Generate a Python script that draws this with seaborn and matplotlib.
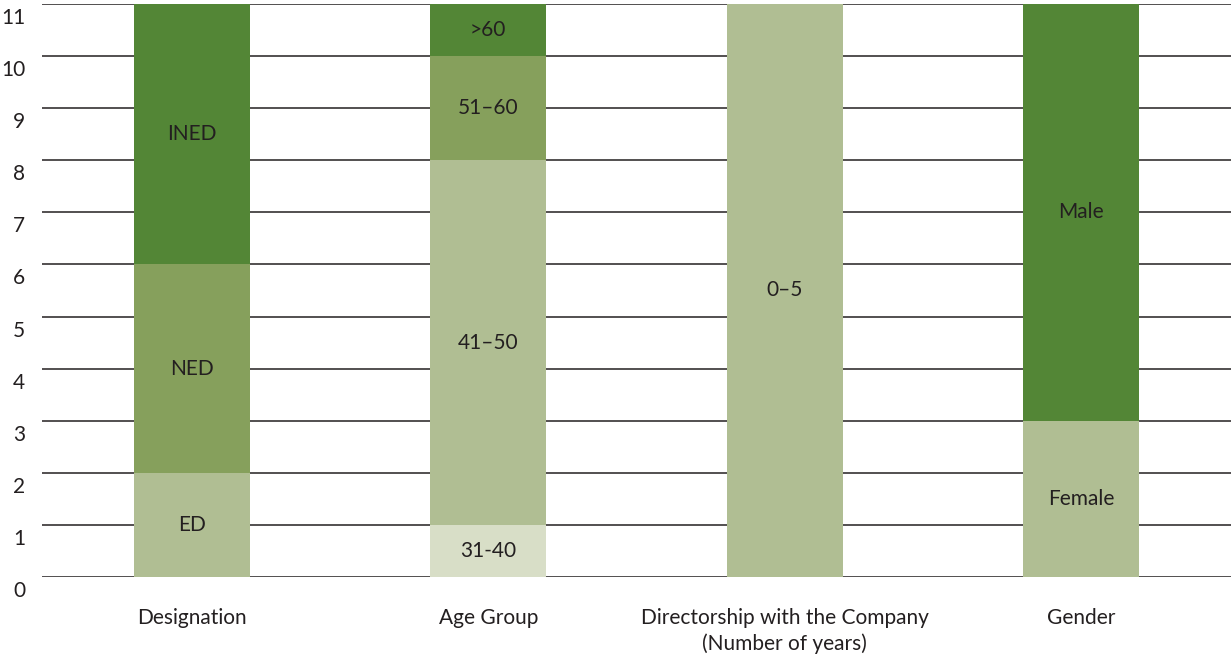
import matplotlib
matplotlib.use("Agg")
import matplotlib.pyplot as plt
import matplotlib.transforms as mtransforms
import seaborn as sns
import numpy as np

# categories on the x axis
categories = ["Designation", "Age Group", "Directorship with the Company\n(Number of years)", "Gender"]

# stacked segments per category, bottom to top
segment_labels = [
    ["ED", "NED", "INED"],
    ["31-40", "41\u201350", "51\u201360", ">60"],
    ["0\u20135"],
    ["Female", "Male"],
]
segment_values = [
    [2, 4, 5],
    [1, 7, 2, 1],
    [11],
    [3, 8],
]
segment_shades = [
    ["light", "mid", "dark"],
    ["pale", "light", "mid", "dark"],
    ["light"],
    ["light", "dark"],
]

shade_colors = {
    "dark": "#538636",
    "mid": "#86a05c",
    "light": "#b0be93",
    "pale": "#d8dec7",
}
text_color = "#231f20"
fsize = 15

sns.set_style("white")
plt.rcParams["font.family"] = ["Lato", "DejaVu Sans"]

fig = plt.figure(figsize=(12.31, 6.55), dpi=100)
ax = fig.add_axes([42 / 1231, 78 / 655, 1 - 42 / 1231, 573 / 655])

# gridlines behind bars
for y in range(0, 12):
    ax.axhline(y, color="#231f20", lw=1.1, zorder=0)

# draw cumulative tops from the highest segment downward so lower ones overlay
for ci, cat in enumerate(categories):
    vals = np.array(segment_values[ci])
    tops = np.cumsum(vals)
    for k in range(len(vals) - 1, -1, -1):
        sns.barplot(x=[cat], y=[tops[k]], order=categories, ax=ax,
                    color=shade_colors[segment_shades[ci][k]], width=0.39,
                    saturation=1, linewidth=0, edgecolor="none", zorder=2)
        ax.text(ci, tops[k] - vals[k] / 2, segment_labels[ci][k],
                ha="center", va="center", fontsize=fsize, color=text_color, zorder=3)

ax.set_xlim(-0.505, 3.505)
ax.set_ylim(0, 11)
ax.set_yticks(range(0, 12))
ax.set_xlabel("")
ax.set_ylabel("")
for s in ax.spines.values():
    s.set_visible(False)
ax.tick_params(axis="both", length=0, labelsize=fsize, colors=text_color)
ax.tick_params(axis="y", pad=12)
ax.tick_params(axis="x", pad=22)
for lbl in ax.get_xticklabels():
    lbl.set_linespacing(1.35)
    lbl.set_verticalalignment("top")

# y tick labels sit a little below their gridlines
offset = mtransforms.ScaledTranslation(0, -0.12, fig.dpi_scale_trans)
for lbl in ax.get_yticklabels():
    lbl.set_transform(lbl.get_transform() + offset)

fig.savefig("out.png", dpi=100)
